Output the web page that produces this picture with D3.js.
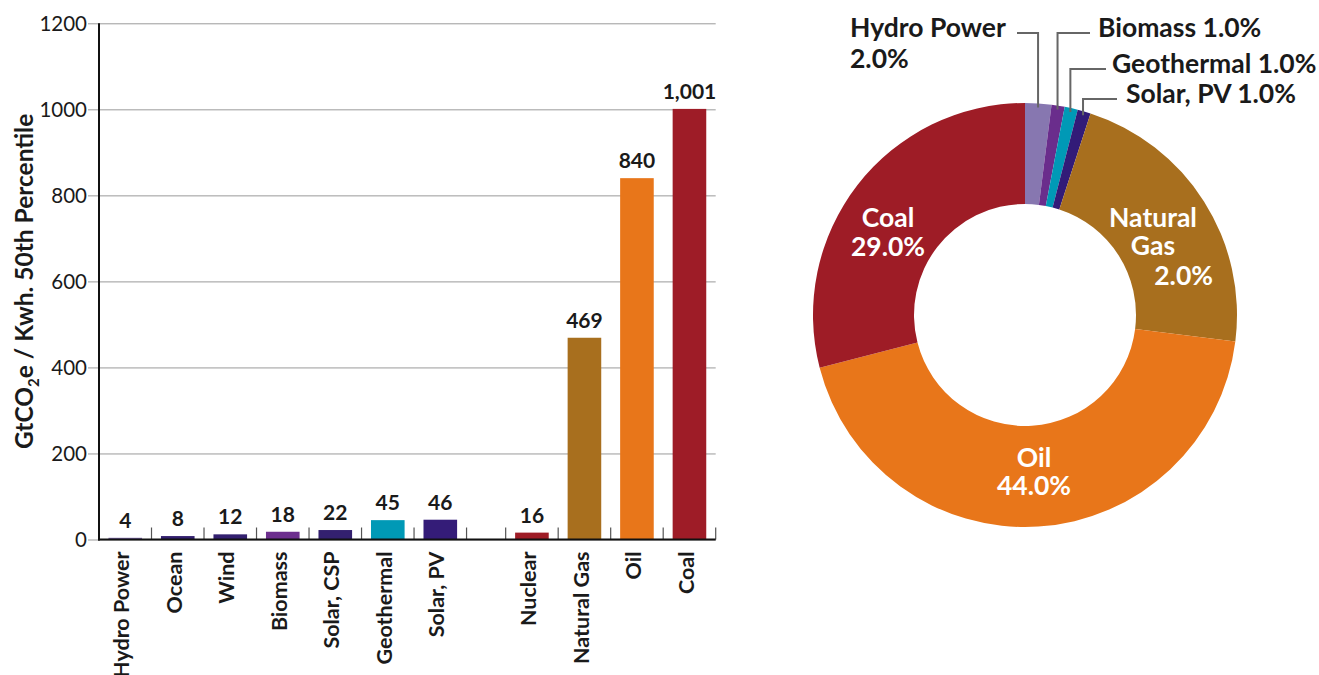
<!DOCTYPE html>
<html>
<head>
<meta charset="utf-8">
<script src="https://cdn.jsdelivr.net/npm/d3@7"></script>
<style>
  html, body { margin: 0; padding: 0; background: #fff; }
  svg { display: block; font-family: Lato, "Open Sans", sans-serif; }
</style>
</head>
<body>
<svg id="chart" width="1319" height="675"></svg>
<script>
// ---------- Data ----------
const categories = ["Hydro Power", "Ocean", "Wind", "Biomass", "Solar, CSP", "Geothermal", "Solar, PV", "Nuclear", "Natural Gas", "Oil", "Coal"];
const values = [4, 8, 12, 18, 22, 45, 46, 16, 469, 840, 1001];
const valueLabels = ["4", "8", "12", "18", "22", "45", "46", "16", "469", "840", "1,001"];
const barColors = ["#7f68ae", "#33206f", "#33206f", "#6d2f8e", "#33206f", "#0099b6", "#341c78", "#9e1c26", "#a86f1e", "#e8761a", "#9e1c27"];
const yTicks = [0, 200, 400, 600, 800, 1000, 1200];
const yTitleParts = ["GtCO", "2", "e / Kwh. 50th Percentile"];

const pieCategories = ["Hydro Power", "Biomass", "Geothermal", "Solar, PV", "Natural Gas", "Oil", "Coal"];
const pieValues = [2, 1, 1, 1, 22, 44, 29];
const pieLabels = ["2.0%", "1.0%", "1.0%", "1.0%", "2.0%", "44.0%", "29.0%"];
const pieColors = ["#8777b0", "#6a2d8c", "#0099b6", "#321b78", "#a86f1e", "#e8761a", "#9e1c26"];

// ---------- Layout ----------
const svg = d3.select("#chart");
const plot = { left: 99, right: 715.7, top: 23.3, bottom: 539.5 };
const GAP = 0.745; // blank slot between Solar, PV and Nuclear (fraction of a slot)
const GAP_AFTER = 7;
const slotPos = categories.map((c, i) => i + (i >= GAP_AFTER ? GAP : 0));
const nSlots = categories.length + GAP;

const x = d3.scaleLinear().domain([0, nSlots]).range([plot.left, plot.right]);
const y = d3.scaleLinear().domain([0, 1200]).range([plot.bottom, plot.top]);
const slotW = x(1) - x(0);
const barW = slotW * 0.64;

// gridlines + y axis ticks
const yAxis = d3.axisLeft(y).tickValues(yTicks).tickSize(-(plot.right - plot.left)).tickPadding(0).tickFormat(d3.format("d"));
const gy = svg.append("g").attr("transform", `translate(${plot.left},0)`).call(yAxis);
gy.select(".domain").remove();
gy.selectAll(".tick line").attr("stroke", "#9a9a9a").attr("stroke-width", 1).attr("x1", -11);
gy.selectAll(".tick text").attr("x", -12).attr("dy", "0.36em")
  .attr("font-size", 20.5).attr("fill", "#1a1a1a").attr("font-family", "Lato");

// bars
svg.append("g").selectAll("rect").data(values).join("rect")
  .attr("x", (d, i) => x(slotPos[i] + 0.5) - barW / 2)
  .attr("y", d => y(d))
  .attr("width", barW)
  .attr("height", d => y(0) - y(d))
  .attr("fill", (d, i) => barColors[i]);

// value labels
svg.append("g").selectAll("text").data(values).join("text")
  .attr("x", (d, i) => x(slotPos[i] + 0.5))
  .attr("y", d => y(d) - 10)
  .attr("text-anchor", "middle")
  .attr("font-size", 21).attr("font-weight", 700).attr("fill", "#1a1a1a")
  .text((d, i) => valueLabels[i]);

// x axis category tick marks (inward)
const tickXs = slotPos.map(p => x(p + 1)).concat([x(slotPos[GAP_AFTER])]);
svg.append("g").selectAll("line").data(tickXs).join("line")
  .attr("x1", d => d).attr("x2", d => d)
  .attr("y1", plot.bottom - 12).attr("y2", plot.bottom)
  .attr("stroke", "#555").attr("stroke-width", 1.2);

// axes lines
svg.append("line").attr("x1", plot.left).attr("x2", plot.left)
  .attr("y1", plot.top).attr("y2", plot.bottom + 1)
  .attr("stroke", "#111").attr("stroke-width", 2);
svg.append("line").attr("x1", plot.left - 1).attr("x2", plot.right)
  .attr("y1", plot.bottom).attr("y2", plot.bottom)
  .attr("stroke", "#111").attr("stroke-width", 2);

// category labels (rotated)
svg.append("g").selectAll("text").data(categories).join("text")
  .attr("transform", (d, i) => `translate(${x(slotPos[i] + 0.5) + 3},${plot.bottom + 12}) rotate(-90)`)
  .attr("text-anchor", "end")
  .attr("dy", "0.05em")
  .attr("font-size", 21.5).attr("font-weight", 700).attr("fill", "#1a1a1a")
  .text(d => d);

// y axis title
const yt = svg.append("text")
  .attr("transform", `translate(33,${(plot.top + plot.bottom) / 2}) rotate(-90)`)
  .attr("text-anchor", "middle")
  .attr("font-size", 24.5).attr("font-weight", 700).attr("fill", "#1a1a1a");
yt.append("tspan").text(yTitleParts[0]);
yt.append("tspan").attr("font-size", 15).attr("dy", 6).text(yTitleParts[1]);
yt.append("tspan").attr("dy", -6).text(yTitleParts[2]);

// ---------- Donut ----------
const cx = 1025, cy = 315, R = 212, r = 111;
const pie = d3.pie().sort(null).value(d => d);
const arcs = pie(pieValues);
const arc = d3.arc().innerRadius(r).outerRadius(R);
const g = svg.append("g").attr("transform", `translate(${cx},${cy})`);
g.selectAll("path").data(arcs).join("path")
  .attr("d", arc)
  .attr("fill", (d, i) => pieColors[i]);

// outside labels for the small slices
const edgeArc = d3.arc().innerRadius(R - 4).outerRadius(R - 4);
const outside = [
  { i: 0, lineY: 33, hx: 1017, lines: [[pieCategories[0], 850, 37, "start"], [pieLabels[0], 850, 68, "start"]] },
  { i: 1, lineY: 33, hx: 1090, lines: [[pieCategories[1] + " " + pieLabels[1], 1098, 37, "start"]] },
  { i: 2, lineY: 69, hx: 1106, lines: [[pieCategories[2] + " " + pieLabels[2], 1112, 73, "start"]] },
  { i: 3, lineY: 99, hx: 1117, lines: [[pieCategories[3] + " " + pieLabels[3], 1126, 103, "start"]] }
];
outside.forEach(o => {
  const c = edgeArc.centroid(arcs[o.i]);
  const px = cx + c[0], py = cy + c[1];
  svg.append("path")
    .attr("d", `M${o.hx},${o.lineY}H${px}V${py}`)
    .attr("fill", "none").attr("stroke", "#666").attr("stroke-width", 2);
  o.lines.forEach(l => {
    svg.append("text").attr("x", l[1]).attr("y", l[2]).attr("text-anchor", l[3])
      .attr("font-size", 26.5).attr("font-weight", 700).attr("fill", "#1a1a1a").text(l[0]);
  });
});

// inside labels
const inside = [
  { lines: [["Coal", 888, 227, "middle"], [pieLabels[6], 888, 256, "middle"]] },
  { lines: [["Natural", 1153, 227, "middle"], ["Gas", 1153, 255, "middle"], [pieLabels[4], 1213, 285, "end"]] },
  { lines: [["Oil", 1034, 467, "middle"], [pieLabels[5], 1034, 495, "middle"]] }
];
inside.forEach(o => o.lines.forEach(l => {
  svg.append("text").attr("x", l[1]).attr("y", l[2]).attr("text-anchor", l[3])
    .attr("font-size", 26.5).attr("font-weight", 700).attr("fill", "#fff").text(l[0]);
}));
</script>
</body>
</html>
